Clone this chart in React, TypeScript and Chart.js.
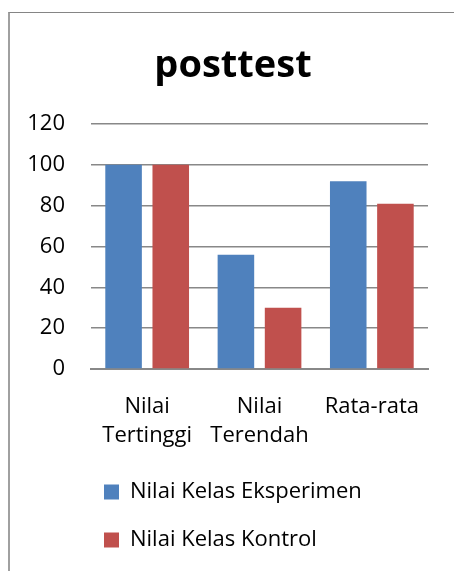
import React, { useEffect, useRef } from "react";
import { Chart, registerables } from "chart.js";

Chart.register(...registerables);

const chartTitle = "posttest";
const categories: (string | string[])[] = [["Nilai", "Tertinggi"], ["Nilai", "Terendah"], "Rata-rata"];
const seriesNames = ["Nilai Kelas Eksperimen", "Nilai Kelas Kontrol"];
const eksperimen = [100, 56, 92];
const kontrol = [100, 30, 81];
const yMin = 0;
const yMax = 120;
const yStep = 20;

const BLUE = "#4F81BD";
const RED = "#C0504D";
const GRID = "#888888";
const FONT = "'Open Sans', 'Noto Sans', sans-serif";

const layoutFix = {
  id: "layoutFix",
  afterLayout(chart: any) {
    if (chart.legend) {
      const w = chart.legend.width;
      chart.legend.left = 68;
      chart.legend.right = 68 + w;
    }
    const y = chart.scales.y;
    if (y) y.left = 0;
  },
};

export default function App() {
  const ref = useRef<HTMLCanvasElement | null>(null);

  useEffect(() => {
    if (!ref.current) return;
    const chart = new Chart(ref.current, {
      type: "bar",
      data: {
        labels: categories as any,
        datasets: [
          { label: seriesNames[0], data: eksperimen, backgroundColor: BLUE, borderWidth: 0 },
          { label: seriesNames[1], data: kontrol, backgroundColor: RED, borderWidth: 0 },
        ],
      },
      plugins: [layoutFix],
      options: {
        responsive: false,
        animation: false,
        devicePixelRatio: 1,
        layout: { padding: { left: 28, right: 26, top: 0, bottom: 0 } },
        datasets: { bar: { categoryPercentage: 0.84, barPercentage: 0.775 } },
        plugins: {
          title: {
            display: true,
            text: chartTitle,
            color: "#000",
            font: { family: FONT, size: 38, weight: "bold", lineHeight: 1.2 },
            padding: { top: 30.5, bottom: 34.9 },
          },
          legend: {
            display: true,
            position: "bottom",
            align: "start",
            labels: {
              color: "#000",
              font: { family: FONT, size: 22 },
              boxWidth: 15,
              boxHeight: 15,
              padding: 26,
            },
          },
          tooltip: { enabled: false },
        },
        scales: {
          x: {
            grid: { display: false, drawTicks: false },
            border: { display: true, color: GRID, width: 2 },
            ticks: {
              color: "#000",
              font: { family: FONT, size: 22, lineHeight: 1.286 },
              padding: 24,
              autoSkip: false,
              maxRotation: 0,
              minRotation: 0,
            },
            afterFit: (s: any) => {
              s.height = 86;
            },
          },
          y: {
            min: yMin,
            max: yMax,
            grid: { color: GRID, lineWidth: 1.6, drawTicks: false },
            border: { display: false },
            ticks: {
              stepSize: yStep,
              color: "#000",
              font: { family: FONT, size: 22 },
              padding: 26,
              labelOffset: 0,
            },
            afterFit: (s: any) => {
              s.width = 53;
            },
          },
        },
      },
    });
    return () => chart.destroy();
  }, []);

  return (
    <>
      <div
        style={{
          position: "fixed",
          left: 8,
          top: 12,
          width: 520,
          height: 640,
          borderLeft: "2px solid #a0a0a0",
          borderTop: "1px solid #858585",
          boxSizing: "border-box",
        }}
      />
      <canvas
        ref={ref}
        width={444}
        height={548}
        style={{ position: "fixed", left: 10, top: 13, width: 444, height: 548 }}
      />
    </>
  );
}
